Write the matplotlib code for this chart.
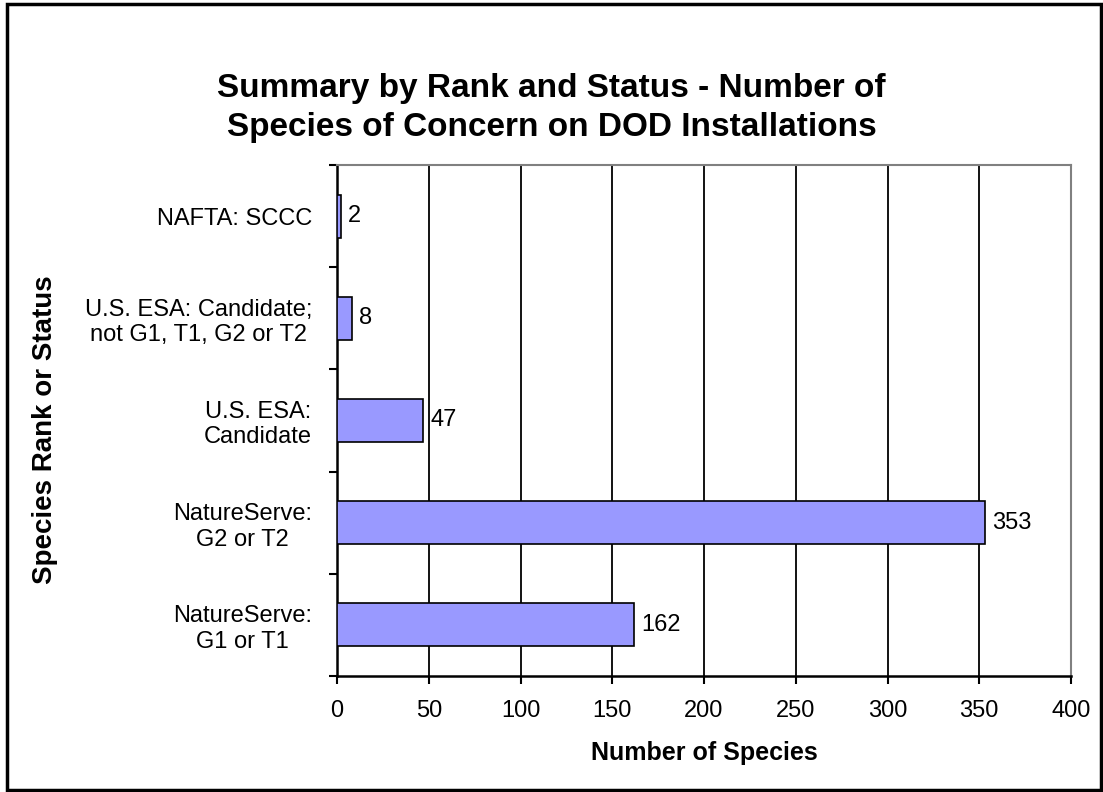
import numpy as np
import matplotlib.pyplot as plt
from matplotlib.patches import Rectangle

plt.rcParams['font.family'] = ['Liberation Sans', 'DejaVu Sans']

categories = ["NatureServe:\nG1 or T1", "NatureServe:\nG2 or T2", "U.S. ESA:\nCandidate",
              "U.S. ESA: Candidate;\nnot G1, T1, G2 or T2", "NAFTA: SCCC"]
counts = [162, 353, 47, 8, 2]
xticks = [0, 50, 100, 150, 200, 250, 300, 350, 400]

fig = plt.figure(figsize=(11.03, 7.92), dpi=100)
ax = fig.add_axes([337 / 1103, 1 - 676 / 792, (1071 - 337) / 1103, (676 - 165) / 792])

y = np.arange(len(categories))
ax.barh(y, counts, height=0.42, color='#9999FF', edgecolor='black', linewidth=1.2, zorder=3)
for yi, c in zip(y, counts):
    ax.text(c + 4, yi, str(c), va='center', ha='left', fontsize=17)

ax.set_xlim(0, 400)
ax.set_ylim(-0.5, len(categories) - 0.5)
ax.set_xticks(xticks)
ax.set_xticklabels([str(v) for v in xticks], fontsize=17)
for v in xticks[1:-1]:
    ax.axvline(v, color='black', linewidth=1.3, zorder=1)

ax.set_yticks(y)
ax.set_yticklabels(categories, fontsize=17, multialignment='center')
ax.set_yticks(np.arange(-0.5, len(categories)), minor=True)
ax.tick_params(axis='y', which='major', length=0, pad=18)
ax.tick_params(axis='y', which='minor', length=6, width=1.5, direction='out')
ax.tick_params(axis='x', length=6, width=1.5, direction='out', pad=11)

for s in ['left', 'bottom']:
    ax.spines[s].set_linewidth(1.8)
    ax.spines[s].set_color('black')
for s in ['top', 'right']:
    ax.spines[s].set_linewidth(1.5)
    ax.spines[s].set_color('#808080')

fig.text(704 / 1103, 1 - 753 / 792, "Number of Species", ha='center', va='center',
         fontsize=18, fontweight='bold')
fig.text(45 / 1103, 1 - 430 / 792, "Species Rank or Status", ha='center', va='center',
         rotation=90, fontsize=20, fontweight='bold')

fig.text(0.5, 1 - 108 / 792, "Summary by Rank and Status - Number of\nSpecies of Concern on DOD Installations",
         ha='center', va='center', fontsize=24, fontweight='bold', linespacing=1.35)

fig.patches.append(Rectangle((7 / 1103, 2 / 792), 1094 / 1103, 786 / 792, transform=fig.transFigure,
                             fill=False, edgecolor='black', linewidth=2.5))

fig.savefig('out.png', dpi=100)
